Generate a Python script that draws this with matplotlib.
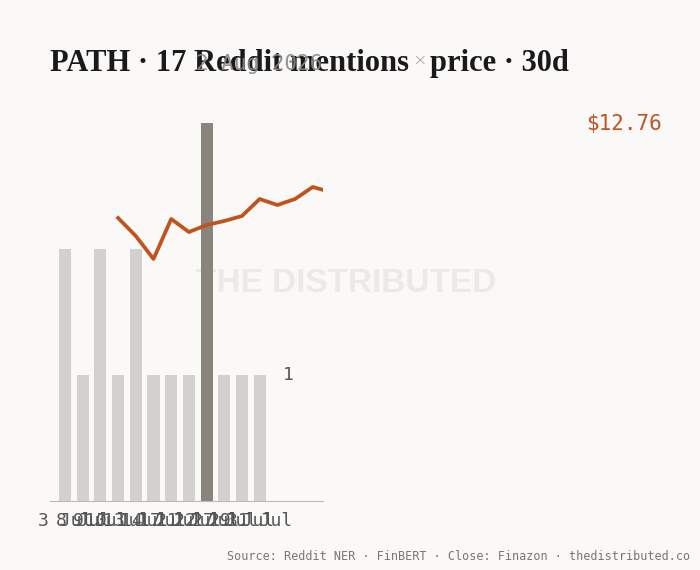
import numpy as np
import matplotlib.pyplot as plt

# mentions per day (bars) and 30d close (line)
days = ["3 Jul", "8 Jul", "9 Jul", "10 Jul", "13 Jul", "14 Jul",
        "17 Jul", "21 Jul", "22 Jul", "27 Jul", "29 Jul", "31 Jul"]
mentions = [2, 1, 2, 1, 2, 1, 1, 1, 3, 1, 1, 1]
peak_idx = 8

price_pos = [3, 4, 5, 6, 7, 8, 9, 10, 11, 12, 13, 14, 15]
price = [12.50, 12.32, 12.09, 12.49, 12.36, 12.43, 12.47, 12.52,
         12.69, 12.63, 12.69, 12.81, 12.76]

BG = "#faf9f7"
BAR = "#d3d1cd"
BAR_DARK = "#8a857c"
ORANGE = "#c0531e"
MONO = "DejaVu Sans Mono"

fig = plt.figure(figsize=(7, 5.7), dpi=100, facecolor=BG)
ax = fig.add_axes([50/700, 69/570, 273/700, 378/570])
ax.patch.set_alpha(0)

x = np.arange(len(days))
colors = [BAR_DARK if i == peak_idx else BAR for i in x]
ax.bar(x, mentions, width=0.68, color=colors, zorder=2)
ax.set_xlim(-0.85, 14.58)
ax.set_ylim(0, 3.0)
ax.set_xticks(x)
ax.set_xticklabels(days, fontsize=13, family=MONO, color="#555555")
ax.tick_params(axis="x", length=0, pad=8)
ax.set_yticks([])
for s in ["top", "right", "left"]:
    ax.spines[s].set_visible(False)
ax.spines["bottom"].set_color("#bbbbbb")
ax.text(12.3, 1, "1", fontsize=13, family=MONO, color="#555555", va="center", ha="left")

ax2 = ax.twinx()
ax2.patch.set_alpha(0)
ax2.plot(price_pos, price, color=ORANGE, lw=2.7, zorder=3)
ax2.set_ylim(9.67, 13.45)
ax2.set_yticks([])
for s in ax2.spines.values():
    s.set_visible(False)

# watermark, behind the bars
fig.text(196/700, 1 - 284/570, "THE DISTRIBUTED", fontsize=24, fontweight="bold",
         family="Liberation Sans", color="#ebeae8", va="center", ha="left", zorder=-1)

# title
t1 = fig.text(50/700, 1 - 71/570, "PATH · 17 Reddit mentions", fontsize=22, fontweight="bold",
              family="Liberation Serif", color="#1a1a1a", va="baseline")
t2 = fig.text(0, 0, "×", fontsize=16, family="Liberation Serif", color="#b0b0b0", va="baseline")
t3 = fig.text(0, 0, "price · 30d", fontsize=22, fontweight="bold",
              family="Liberation Serif", color="#1a1a1a", va="baseline")
fig.canvas.draw()
r = fig.canvas.get_renderer()
e1 = t1.get_window_extent(r)
t2.set_position(((e1.x1 + 4) / 700, 1 - 67/570))
fig.canvas.draw()
e2 = t2.get_window_extent(r)
t3.set_position(((e2.x1 + 4) / 700, 1 - 71/570))

fig.text(322/700, 1 - 70/570, "2 Aug 2026", fontsize=15, family=MONO, color="#8a8a8a",
         va="baseline", ha="right", alpha=0.9)

fig.text(662/700, 1 - 124/570, "$12.76", fontsize=15, family=MONO, color=ORANGE,
         va="center", ha="right")

fig.text(690/700, 1 - 556/570,
         "Source: Reddit NER · FinBERT · Close: Finazon · thedistributed.co",
         fontsize=8.5, family=MONO, color="#777777", va="center", ha="right")

fig.savefig("out.png", dpi=100, facecolor=BG)
